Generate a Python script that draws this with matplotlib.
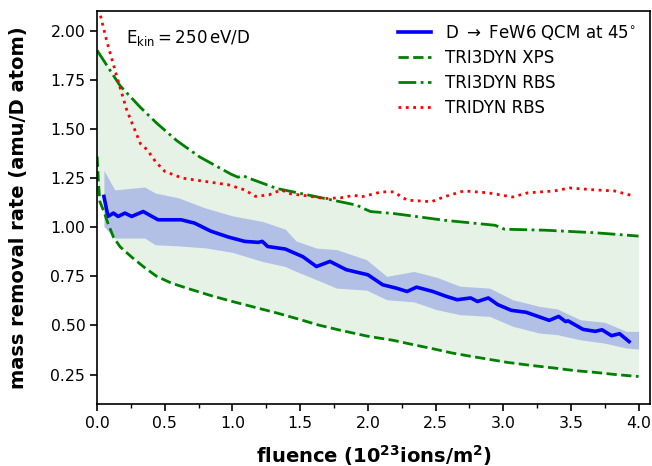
import matplotlib
matplotlib.use("Agg")
import matplotlib.pyplot as plt
import numpy as np

# QCM measurement (blue line)
qcm_x = [0.05,0.08,0.12,0.155,0.205,0.255,0.34,0.45,0.62,0.72,0.84,0.97,1.09,1.19,1.22,1.26,1.39,1.46,1.52,1.62,1.72,1.84,2.0,2.11,2.21,2.29,2.36,2.48,2.58,2.66,2.76,2.81,2.89,2.96,3.06,3.17,3.34,3.41,3.46,3.48,3.59,3.68,3.73,3.80,3.86,3.93]
qcm_y = [1.157,1.055,1.072,1.055,1.072,1.055,1.08,1.038,1.038,1.021,0.98,0.95,0.928,0.923,0.928,0.902,0.889,0.868,0.85,0.80,0.826,0.784,0.758,0.707,0.69,0.673,0.695,0.673,0.648,0.631,0.64,0.622,0.64,0.606,0.577,0.567,0.526,0.546,0.52,0.523,0.48,0.47,0.478,0.448,0.458,0.418]

# QCM uncertainty band
band_x = [0.05,0.13,0.35,0.43,0.6,0.8,1.0,1.22,1.39,1.47,1.62,1.77,1.99,2.14,2.34,2.51,2.68,2.9,3.07,3.27,3.4,3.57,3.75,3.91,4.0]
band_hi = [1.29,1.19,1.205,1.174,1.15,1.098,1.058,1.03,0.99,0.93,0.894,0.886,0.835,0.75,0.775,0.745,0.70,0.69,0.631,0.597,0.584,0.529,0.516,0.47,0.47]
band_lo = [1.004,0.945,0.945,0.911,0.905,0.895,0.872,0.826,0.80,0.775,0.733,0.69,0.68,0.631,0.62,0.58,0.555,0.546,0.496,0.461,0.453,0.427,0.41,0.385,0.38]

# TRI3DYN XPS (green dashed, lower)
xps_x = [0.0,0.01,0.02,0.05,0.08,0.12,0.17,0.26,0.35,0.44,0.55,0.69,0.85,1.01,1.15,1.33,1.5,1.63,1.8,2.0,2.19,2.35,2.49,2.62,2.76,2.9,3.03,3.2,3.38,3.53,3.68,3.83,4.0]
xps_y = [1.36,1.22,1.13,1.08,1.02,0.95,0.90,0.845,0.795,0.75,0.715,0.684,0.65,0.62,0.595,0.563,0.53,0.503,0.475,0.445,0.424,0.40,0.38,0.36,0.343,0.327,0.312,0.297,0.283,0.27,0.261,0.25,0.24]

# TRI3DYN RBS (green dash-dot, upper)
rbs3_x = [0.0,0.17,0.32,0.44,0.59,0.76,0.99,1.04,1.08,1.12,1.33,1.63,1.92,1.97,2.02,2.19,2.56,2.94,3.01,3.31,3.68,4.0]
rbs3_y = [1.90,1.72,1.61,1.53,1.44,1.357,1.27,1.255,1.262,1.25,1.197,1.154,1.112,1.095,1.08,1.07,1.036,1.01,0.99,0.985,0.972,0.955]

# TRIDYN RBS (red dotted)
rbs_x = [0.0,0.02,0.07,0.14,0.22,0.32,0.37,0.43,0.50,0.63,0.80,0.97,1.09,1.17,1.27,1.36,1.43,1.55,1.68,1.8,1.9,1.95,2.1,2.19,2.29,2.47,2.56,2.71,2.89,3.07,3.18,3.38,3.49,3.68,3.82,3.97]
rbs_y = [2.15,2.09,1.95,1.78,1.594,1.425,1.394,1.335,1.284,1.25,1.233,1.216,1.19,1.157,1.165,1.19,1.17,1.16,1.146,1.15,1.163,1.154,1.18,1.18,1.138,1.13,1.154,1.185,1.175,1.154,1.175,1.185,1.20,1.19,1.185,1.158]

fig = plt.figure(figsize=(6.52, 4.66), dpi=100)
ax = fig.add_axes([0.149, 0.133, 0.848, 0.843])

# green fill between TRI3DYN curves
fx = np.linspace(0, 4.0, 400)
ax.fill_between(fx, np.interp(fx, xps_x, xps_y), np.interp(fx, rbs3_x, rbs3_y),
                color='green', alpha=0.1, linewidth=0)
ax.fill_between(band_x, band_lo, band_hi, color='#b3c0e6', linewidth=0)

ax.plot(qcm_x, qcm_y, color='blue', lw=2.6, label=r'D $\rightarrow$ FeW6 QCM at 45$^{\circ}$')
ax.plot(xps_x, xps_y, color='green', lw=2, ls='--', label='TRI3DYN XPS')
ax.plot(rbs3_x, rbs3_y, color='green', lw=2, ls='-.', label='TRI3DYN RBS')
ax.plot(rbs_x, rbs_y, color='red', lw=2, ls=':', label='TRIDYN RBS')

ax.set_xlim(0, 4.085)
ax.set_ylim(0.1, 2.1)
ax.set_xticks([0, 0.5, 1.0, 1.5, 2.0, 2.5, 3.0, 3.5, 4.0])
ax.set_xticks(np.arange(0.25, 4.0, 0.5), minor=True)
ax.set_yticks([0.25, 0.5, 0.75, 1.0, 1.25, 1.5, 1.75, 2.0])
ax.xaxis.set_major_formatter(matplotlib.ticker.FormatStrFormatter('%.1f'))
ax.yaxis.set_major_formatter(matplotlib.ticker.FormatStrFormatter('%.2f'))
ax.tick_params(axis='both', which='major', labelsize=11.3, length=5, width=1.2)
ax.tick_params(axis='x', which='minor', length=3, width=1)
for s in ax.spines.values():
    s.set_linewidth(1.2)

ax.set_xlabel(r'fluence (10$^{\mathbf{23}}$ions/m$^{\mathbf{2}}$)', fontsize=14, fontweight='bold', labelpad=8.5)
ax.set_ylabel('mass removal rate (amu/D atom)', fontsize=14, fontweight='bold', labelpad=16)

ax.text(0.053, 0.931, r'$\mathregular{E_{kin} = 250\,eV/D}$', transform=ax.transAxes,
        fontsize=12, va='center', ha='left')

ax.legend(loc='upper right', frameon=False, fontsize=12, borderaxespad=0.3,
          labelspacing=0.42, bbox_to_anchor=(0.995, 1.0))

fig.savefig('out.png', dpi=100)
